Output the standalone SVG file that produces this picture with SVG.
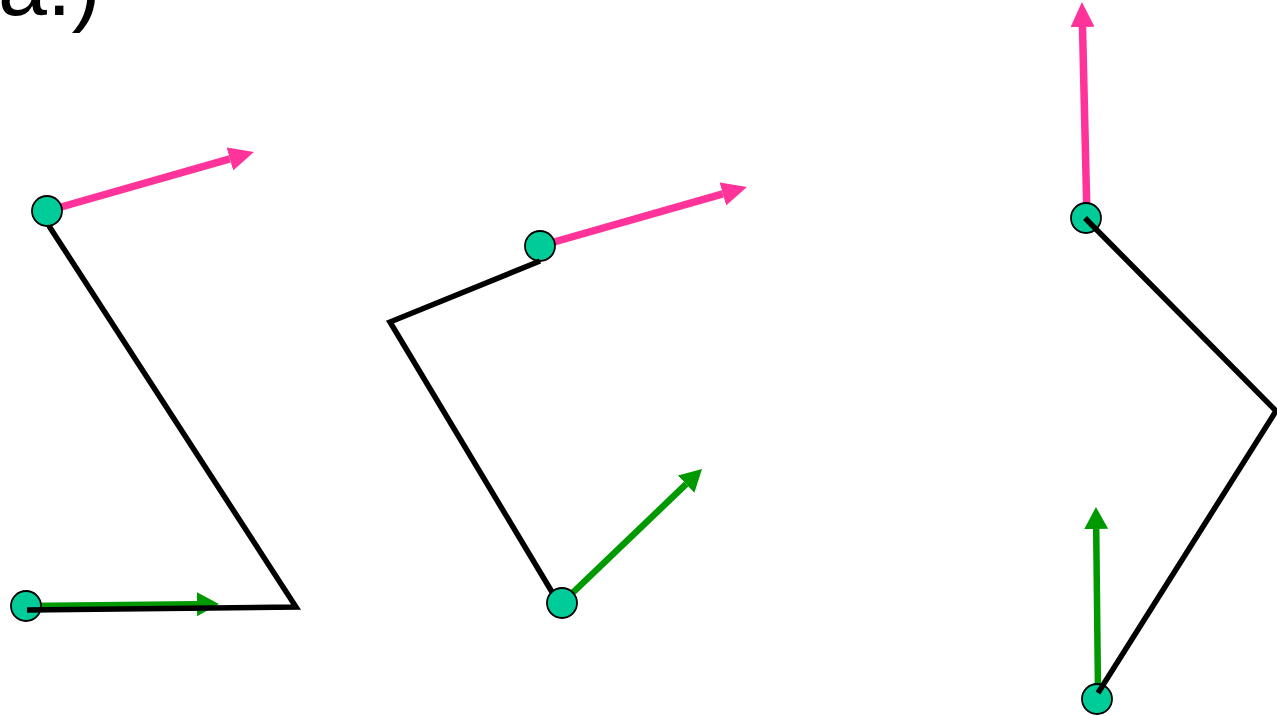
<svg xmlns="http://www.w3.org/2000/svg" width="1277" height="716" viewBox="0 0 1277 716">
<style>
.pink{stroke:#FF3399;stroke-width:7.5;fill:none}
.green{stroke:#009900;stroke-width:6.5;fill:none}
.arm{stroke:#000;stroke-width:5.5;fill:none;stroke-linejoin:miter}
.joint{fill:#00CC99;stroke:#000;stroke-width:1.8}
.label{font-family:"Liberation Sans",Arial,sans-serif;font-size:88px;fill:#000}
</style>
<defs>
<marker id="hp" markerUnits="userSpaceOnUse" markerWidth="26" markerHeight="24" refX="0" refY="12" orient="auto">
<path d="M0,0 L25,12 L0,24 z" fill="#FF3399"/>
</marker>
<marker id="hg" markerUnits="userSpaceOnUse" markerWidth="24" markerHeight="24" refX="0" refY="12" orient="auto">
<path d="M0,0 L22,12 L0,24 z" fill="#009900"/>
</marker>
</defs>
<rect width="1277" height="716" fill="#fff"/>
<text class="label" x="-2" y="15">a.)</text>
<g id="connectors">
<line class="pink" x1="47" y1="211" x2="229.9" y2="158.9" marker-end="url(#hp)"/>
<line class="pink" x1="540" y1="246" x2="722.9" y2="193.9" marker-end="url(#hp)"/>
<line class="pink" x1="1087" y1="218" x2="1082.5" y2="27" marker-end="url(#hp)"/>
<line class="green" x1="26" y1="606" x2="197" y2="604.2" marker-end="url(#hg)"/>
<line class="green" x1="562" y1="603" x2="686.1" y2="484.2" marker-end="url(#hg)"/>
<line class="green" x1="1098" y1="692" x2="1096.2" y2="529" marker-end="url(#hg)"/>
</g>
<g id="node-f1-top"><circle class="joint" cx="47" cy="211" r="15"/></g>
<g id="node-f1-bottom"><circle class="joint" cx="26" cy="606" r="15"/></g>
<g id="node-f2-top"><circle class="joint" cx="540" cy="246" r="15"/></g>
<g id="node-f2-bottom"><circle class="joint" cx="562" cy="603" r="15"/></g>
<g id="node-f3-top"><circle class="joint" cx="1086" cy="218" r="15"/></g>
<g id="node-f3-bottom"><circle class="joint" cx="1097" cy="699" r="15"/></g>
<g id="arms">
<polyline class="arm" points="49,226 296,607 27,610"/>
<polyline class="arm" points="540,261 390,322 552,592"/>
<polyline class="arm" points="1085,218 1276,411 1098,693"/>
</g>
</svg>
